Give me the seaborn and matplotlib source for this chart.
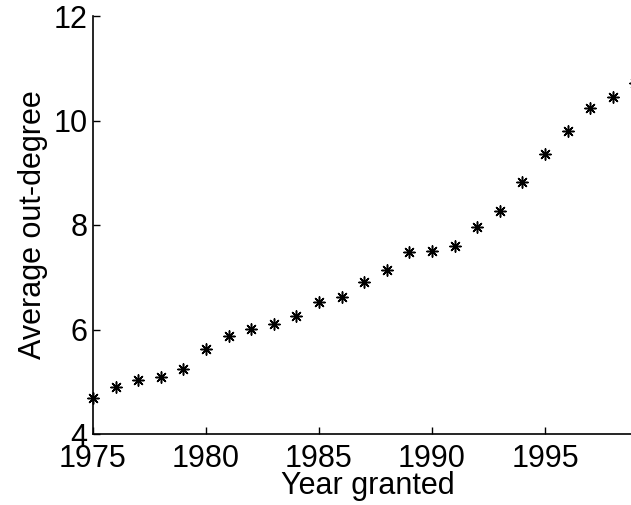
import matplotlib
matplotlib.use("Agg")
import matplotlib.pyplot as plt
import seaborn as sns
import pandas as pd

# Values
years = [1975, 1976, 1977, 1978, 1979, 1980, 1981, 1982, 1983, 1984, 1985, 1986,
         1987, 1988, 1989, 1990, 1991, 1992, 1993, 1994, 1995, 1996, 1997, 1998, 1999]
avg_out_degree = [4.68, 4.89, 5.03, 5.10, 5.24, 5.62, 5.88, 6.01, 6.11, 6.26, 6.52, 6.62,
                  6.90, 7.14, 7.49, 7.50, 7.60, 7.96, 8.27, 8.83, 9.36, 9.80, 10.24, 10.45, 10.72]
x_ticks = [1975, 1980, 1985, 1990, 1995]
y_ticks = [4, 6, 8, 10, 12]

sns.set_style("ticks")
plt.rcParams['font.family'] = ['Liberation Sans', 'DejaVu Sans']
plt.rcParams['text.color'] = 'black'
plt.rcParams['axes.labelcolor'] = 'black'

df = pd.DataFrame({"year": years, "degree": avg_out_degree})

W, H = 631, 505
fig = plt.figure(figsize=(W / 100, H / 100), dpi=100)
# axes runs a little past the right edge of the figure, like the cropped original
px_per_year = 22.6
x_max = 1999.3
ax = fig.add_axes([93 / W, 71 / H, (x_max - 1975) * px_per_year / W, 418 / H])

sns.scatterplot(data=df, x="year", y="degree", ax=ax, marker=(8, 2, 0),
                color="black", s=65, linewidth=1.1, edgecolor="black",
                legend=False, clip_on=False)

ax.set_xlim(1975, x_max)
ax.set_ylim(4, 12)
ax.set_xticks(x_ticks)
ax.set_yticks(y_ticks)
ax.tick_params(direction="in", length=5, width=1, labelsize=22, colors="black")
ax.tick_params(axis="x", pad=7)
ax.tick_params(axis="y", pad=4)
for side in ["top", "right"]:
    ax.spines[side].set_visible(False)
for side in ["left", "bottom"]:
    ax.spines[side].set_linewidth(1.2)
    ax.spines[side].set_color("black")

ax.set_xlabel("Year granted", fontsize=22, labelpad=-2)
ax.set_ylabel("Average out-degree", fontsize=22, labelpad=4)

fig.savefig("out.png", dpi=100)
